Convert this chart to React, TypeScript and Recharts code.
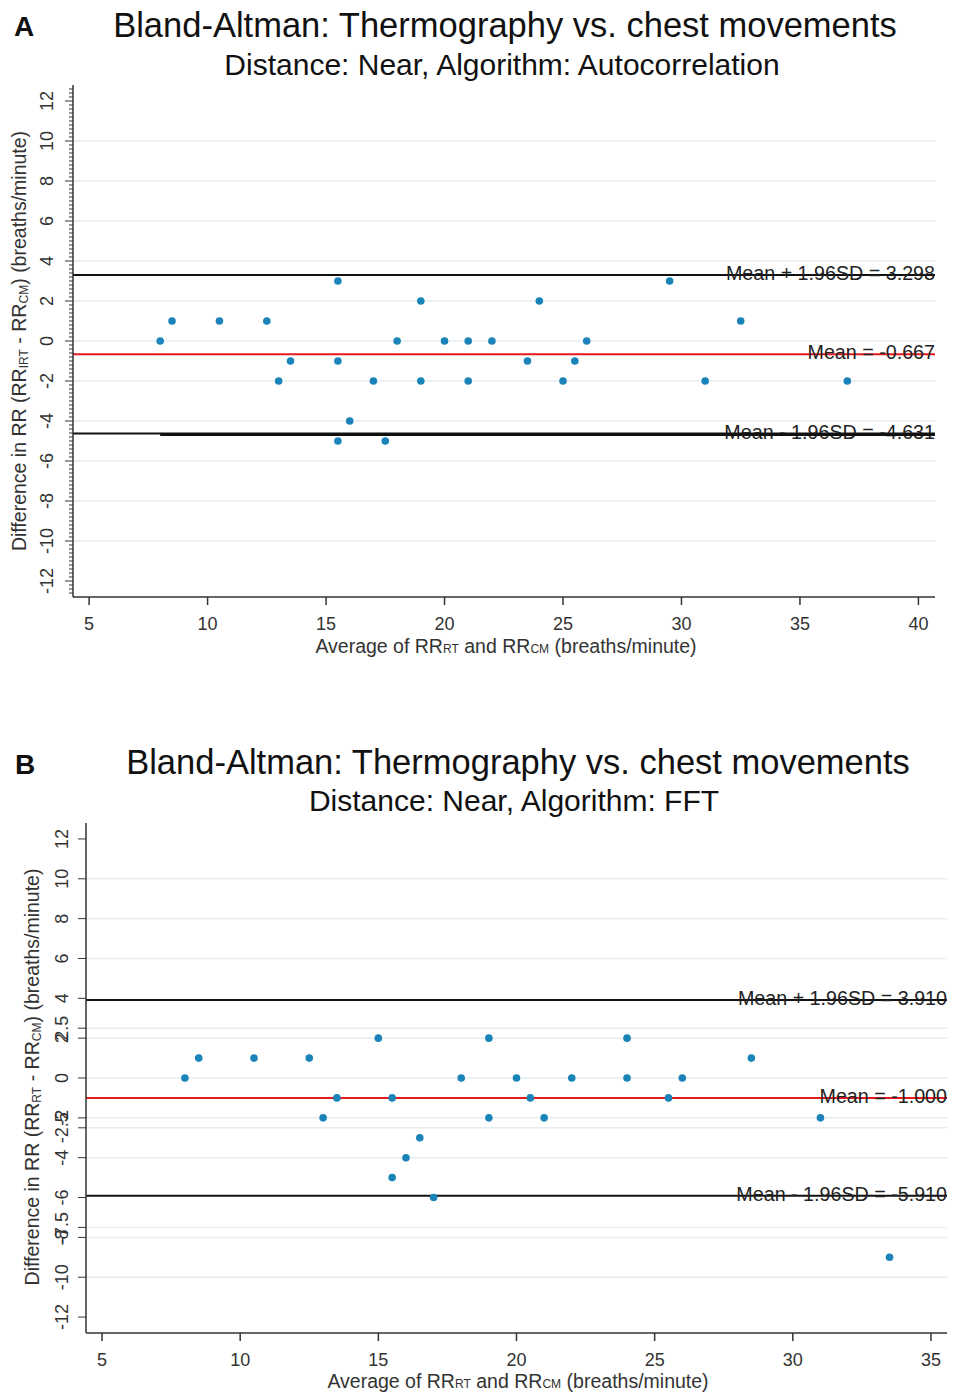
import React from 'react';
import { ScatterChart, Scatter, XAxis, YAxis, ReferenceLine } from 'recharts';

// ---------- Panel A data (Autocorrelation) ----------
const avgA = [8, 8.5, 10.5, 12.5, 13, 13.5, 15.5, 15.5, 15.5, 16, 17, 17.5, 18, 19, 19, 20, 21, 21, 22, 23.5, 24, 25, 25.5, 26, 29.5, 31, 32.5, 37];
const diffA = [0, 1, 1, 1, -2, -1, 3, -1, -5, -4, -2, -5, 0, 2, -2, 0, 0, -2, 0, -1, 2, -2, -1, 0, 3, -2, 1, -2];
const meanA = -0.667;
const upperA = 3.298;
const lowerA = -4.631;
const xTicksA = [5, 10, 15, 20, 25, 30, 35, 40];
const yTicksA = [12, 10, 8, 6, 4, 2, 0, -2, -4, -6, -8, -10, -12];
const gridA = [10, 8, 6, 4, 2, 0, -2, -4, -6, -8, -10];

// ---------- Panel B data (FFT) ----------
const avgB = [8, 8.5, 10.5, 12.5, 13, 13.5, 15, 15.5, 15.5, 16, 16.5, 17, 18, 19, 19, 20, 20.5, 21, 22, 24, 24, 25.5, 26, 28.5, 31, 33.5];
const diffB = [0, 1, 1, 1, -2, -1, 2, -1, -5, -4, -3, -6, 0, 2, -2, 0, -1, -2, 0, 2, 0, -1, 0, 1, -2, -9];
const meanB = -1.0;
const upperB = 3.91;
const lowerB = -5.91;
const xTicksB = [5, 10, 15, 20, 25, 30, 35];
const yTicksB = [12, 10, 8, 6, 4, 2.5, 2, 0, -2, -2.5, -4, -6, -7.5, -8, -10, -12];
const gridB = [10, 8, 6, 2.5, 2, 0, -2, -2.5, -4, -7.5, -8, -10];

// minor ticks on panel A's y axis (decoration only)
const minorA = Array.from({ length: 127 }, (_, i) => Math.round((-12.6 + i * 0.2) * 10) / 10);

const dataA = avgA.map((x, i) => ({ x, y: diffA[i] }));
const dataB = avgB.map((x, i) => ({ x, y: diffB[i] }));

const FONT = "'Liberation Sans', Arial, Helvetica, sans-serif";
const DOT = '#1a84b8';
const AXIS = '#333333';
const GRID = '#e6edf2';

const dot = (p: any) => <circle cx={p.cx} cy={p.cy} r={3.8} fill={DOT} />;

const makeYTick = (major: number[], labelGap: number, withMinor: boolean) => (props: any) => {
  const { x, y, payload } = props;
  const v = payload.value;
  const ax = x + 10;
  const isMajor = major.includes(v);
  if (!isMajor && !withMinor) return <g />;
  const bx = ax - labelGap;
  return (
    <g>
      <line x1={ax} x2={ax - (isMajor ? 8 : 4)} y1={y} y2={y} stroke={AXIS} strokeWidth={1} />
      {isMajor && (
        <text x={bx} y={y} transform={`rotate(-90 ${bx} ${y})`} textAnchor="middle" fontSize={18} fill={AXIS} fontFamily={FONT}>
          {String(v)}
        </text>
      )}
    </g>
  );
};

const lineLabel = (text: string) => (props: any) => {
  const vb = props.viewBox || {};
  return (
    <text x={vb.x + vb.width} y={vb.y + 5} textAnchor="end" fontSize={19.7} fill="#222" fontFamily={FONT}>
      {text}
    </text>
  );
};

const abs = (extra: React.CSSProperties): React.CSSProperties => ({
  position: 'absolute',
  whiteSpace: 'nowrap',
  lineHeight: 1,
  fontFamily: FONT,
  transform: 'translate(-50%, -50%)',
  ...extra,
});

const sub = (t: string, lower: boolean) => (
  <span style={{ fontSize: '0.62em', position: 'relative', top: lower ? '0.15em' : 0 }}>{t}</span>
);

export default function App() {
  return (
    <div style={{ position: 'absolute', left: 0, top: 0, width: 953, height: 1393, background: '#fff', overflow: 'hidden' }}>
      {/* Panel A */}
      <div style={{ position: 'absolute', left: 0, top: 0 }}>
        <ScatterChart width={953} height={680} margin={{ top: 85, right: 18, bottom: 0, left: 0 }}>
          <XAxis
            type="number"
            dataKey="x"
            domain={[4.32, 40.7]}
            ticks={xTicksA}
            interval={0}
            tickSize={8}
            tickMargin={12}
            height={83}
            stroke={AXIS}
            strokeWidth={1.5}
            tick={{ fontSize: 18, fill: AXIS, fontFamily: FONT }}
            allowDataOverflow
          />
          <YAxis
            type="number"
            dataKey="y"
            domain={[-12.8, 12.8]}
            ticks={[...yTicksA, ...minorA.filter((m) => !yTicksA.includes(m))]}
            interval={0}
            width={73}
            tickSize={8}
            tickMargin={2}
            tickLine={false}
            stroke={AXIS}
            strokeWidth={1.5}
            tick={makeYTick(yTicksA, 20, true)}
            allowDataOverflow
          />
          {gridA.map((v) => (
            <ReferenceLine key={v} y={v} stroke={GRID} strokeWidth={1.5} />
          ))}
          <ReferenceLine y={upperA} stroke="#111" strokeWidth={2} label={lineLabel(`Mean + 1.96SD = ${upperA.toFixed(3)}`)} />
          <ReferenceLine y={meanA} stroke="#e41a1c" strokeWidth={2} label={lineLabel(`Mean = ${meanA.toFixed(3)}`)} />
          <ReferenceLine y={lowerA} stroke="#111" strokeWidth={2} label={lineLabel(`Mean - 1.96SD = ${lowerA.toFixed(3)}`)} />
          <ReferenceLine segment={[{ x: 8, y: lowerA - 0.04 }, { x: 40.7, y: lowerA - 0.04 }]} stroke="#111" strokeWidth={3} />
          <Scatter data={dataA} fill={DOT} shape={dot} isAnimationActive={false} />
        </ScatterChart>
      </div>
      <div style={abs({ left: 24, top: 27, fontSize: 28, fontWeight: 'bold', color: '#111' })}>A</div>
      <div style={abs({ left: 505, top: 25, fontSize: 34.5, color: '#111' })}>Bland-Altman: Thermography vs. chest movements</div>
      <div style={abs({ left: 502, top: 65, fontSize: 30, color: '#111' })}>Distance: Near, Algorithm: Autocorrelation</div>
      <div style={abs({ left: 506, top: 647, fontSize: 19.5, color: AXIS })}>
        Average of RR{sub('RT', false)} and RR{sub('CM', false)} (breaths/minute)
      </div>
      <div style={abs({ left: 20, top: 341, fontSize: 19.5, color: AXIS, transform: 'translate(-50%, -50%) rotate(-90deg)' })}>
        Difference in RR (RR{sub('IRT', true)} - RR{sub('CM', true)}) (breaths/minute)
      </div>

      {/* Panel B */}
      <div style={{ position: 'absolute', left: 0, top: 740 }}>
        <ScatterChart width={953} height={653} margin={{ top: 83, right: 6, bottom: 0, left: 0 }}>
          <XAxis
            type="number"
            dataKey="x"
            domain={[4.42, 35.58]}
            ticks={xTicksB}
            interval={0}
            tickSize={8}
            tickMargin={12}
            height={60}
            stroke={AXIS}
            strokeWidth={1.5}
            tick={{ fontSize: 18, fill: AXIS, fontFamily: FONT }}
            allowDataOverflow
          />
          <YAxis
            type="number"
            dataKey="y"
            domain={[-12.8, 12.8]}
            ticks={yTicksB}
            interval={0}
            width={86}
            tickSize={8}
            tickMargin={2}
            tickLine={false}
            stroke={AXIS}
            strokeWidth={1.5}
            tick={makeYTick(yTicksB, 18, false)}
            allowDataOverflow
          />
          {gridB.map((v) => (
            <ReferenceLine key={v} y={v} stroke={GRID} strokeWidth={1.5} />
          ))}
          <ReferenceLine y={upperB} stroke="#111" strokeWidth={2} label={lineLabel(`Mean + 1.96SD = ${upperB.toFixed(3)}`)} />
          <ReferenceLine y={meanB} stroke="#e41a1c" strokeWidth={2} label={lineLabel(`Mean = ${meanB.toFixed(3)}`)} />
          <ReferenceLine y={lowerB} stroke="#111" strokeWidth={2} label={lineLabel(`Mean - 1.96SD = ${lowerB.toFixed(3)}`)} />
          <Scatter data={dataB} fill={DOT} shape={dot} isAnimationActive={false} />
        </ScatterChart>
      </div>
      <div style={abs({ left: 25, top: 765, fontSize: 28, fontWeight: 'bold', color: '#111' })}>B</div>
      <div style={abs({ left: 518, top: 762, fontSize: 34.5, color: '#111' })}>Bland-Altman: Thermography vs. chest movements</div>
      <div style={abs({ left: 514, top: 801, fontSize: 30, color: '#111' })}>Distance: Near, Algorithm: FFT</div>
      <div style={abs({ left: 518, top: 1382, fontSize: 19.5, color: AXIS })}>
        Average of RR{sub('RT', false)} and RR{sub('CM', false)} (breaths/minute)
      </div>
      <div style={abs({ left: 33, top: 1077, fontSize: 19.5, color: AXIS, transform: 'translate(-50%, -50%) rotate(-90deg)' })}>
        Difference in RR (RR{sub('RT', true)} - RR{sub('CM', true)}) (breaths/minute)
      </div>
    </div>
  );
}
